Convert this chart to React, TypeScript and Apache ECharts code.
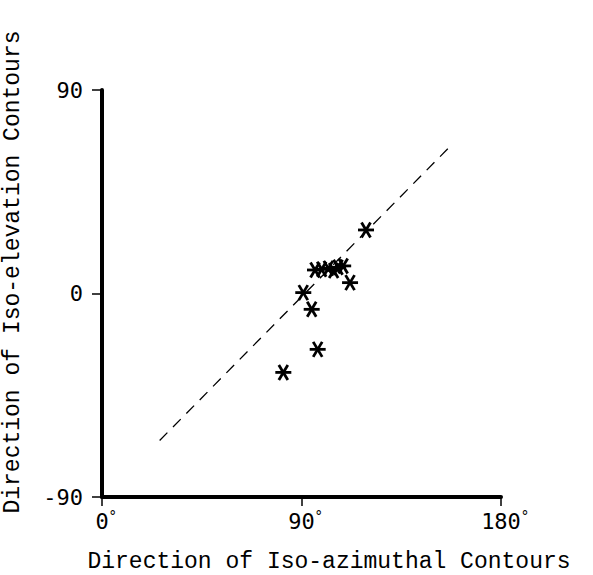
import React, { useEffect, useRef } from "react";
import * as echarts from "echarts";

const xTicks = [0, 90, 180];
const yTicks = [-90, 0, 90];
const azimuthal = [119.1, 96.1, 99.1, 102.1, 104.5, 106.5, 108.8, 111.9, 90.8, 94.6, 97.3, 81.8];
const elevation = [28.1, 10.4, 10.7, 11.1, 10.2, 11.6, 12.2, 4.8, 0.4, -7, -24.7, -34.9];
const refLineX = [26, 157];
const refLineY = [-65, 65];
const xName = "Direction of Iso-azimuthal Contours";
const yName = "Direction of Iso-elevation Contours";

export default function App() {
  const ref = useRef<HTMLDivElement>(null);
  useEffect(() => {
    if (!ref.current) return;
    const chart = echarts.init(ref.current, null, { renderer: "svg" });
    const points = azimuthal.map((x, i) => [x, elevation[i]]);
    const line = refLineX.map((x, i) => [x, refLineY[i]]);
    chart.setOption({
      animation: false,
      backgroundColor: "#fff",
      grid: { left: 102, right: 92, top: 90, bottom: 78, containLabel: false },
      xAxis: {
        type: "value",
        min: xTicks[0],
        max: xTicks[xTicks.length - 1],
        interval: 90,
        axisLine: { show: true, onZero: false, lineStyle: { color: "#000", width: 4 } },
        axisTick: { show: true, length: 9, lineStyle: { color: "#000", width: 1.5 } },
        splitLine: { show: false },
        axisLabel: {
          margin: 12,
          formatter: (v: number) => `{p|}{a|${v}}{b|°}`,
          rich: {
            p: { width: 8 },
            a: { fontFamily: "DejaVu Sans Mono", fontSize: 22, color: "#000" },
            b: { fontFamily: "DejaVu Sans Mono", fontSize: 14, color: "#000", width: 8, verticalAlign: "top", padding: [0, 0, 10, 0] },
          },
        },
      },
      yAxis: {
        type: "value",
        min: yTicks[0],
        max: yTicks[yTicks.length - 1],
        interval: 90,
        axisLine: { show: true, onZero: false, lineStyle: { color: "#000", width: 4 } },
        axisTick: { show: true, length: 10, lineStyle: { color: "#000", width: 1.5 } },
        splitLine: { show: false },
        axisLabel: {
          margin: 19,
          fontFamily: "DejaVu Sans Mono",
          fontSize: 22,
          color: "#000",
        },
      },
      graphic: [
        {
          type: "text",
          x: 329,
          y: 562,
          style: {
            text: xName,
            fontFamily: "Liberation Mono",
            fontSize: 23,
            fill: "#000",
            align: "center",
            verticalAlign: "middle",
          },
        },
        {
          type: "text",
          x: 12.5,
          y: 272,
          rotation: Math.PI / 2,
          style: {
            text: yName,
            fontFamily: "Liberation Mono",
            fontSize: 23,
            fill: "#000",
            align: "center",
            verticalAlign: "middle",
          },
        },
      ],
      series: [
        {
          type: "line",
          data: line,
          symbol: "none",
          lineStyle: { color: "#000", width: 1.3, type: [11, 8] },
          z: 1,
        },
        {
          type: "custom",
          data: points,
          z: 2,
          renderItem: (params: any, api: any) => {
            const p = api.coord([api.value(0), api.value(1)]);
            const st = { stroke: "#000", lineWidth: 2.8 };
            return {
              type: "group",
              children: [
                { type: "line", shape: { x1: p[0] - 8, y1: p[1], x2: p[0] + 8, y2: p[1] }, style: st },
                { type: "line", shape: { x1: p[0] - 4.5, y1: p[1] - 7.5, x2: p[0] + 4.5, y2: p[1] + 7.5 }, style: st },
                { type: "line", shape: { x1: p[0] + 4.5, y1: p[1] - 7.5, x2: p[0] - 4.5, y2: p[1] + 7.5 }, style: st },
              ],
            };
          },
        },
      ],
    });
    return () => chart.dispose();
  }, []);
  return <div ref={ref} style={{ position: "fixed", left: 0, top: 0, width: 593, height: 575 }} />;
}
